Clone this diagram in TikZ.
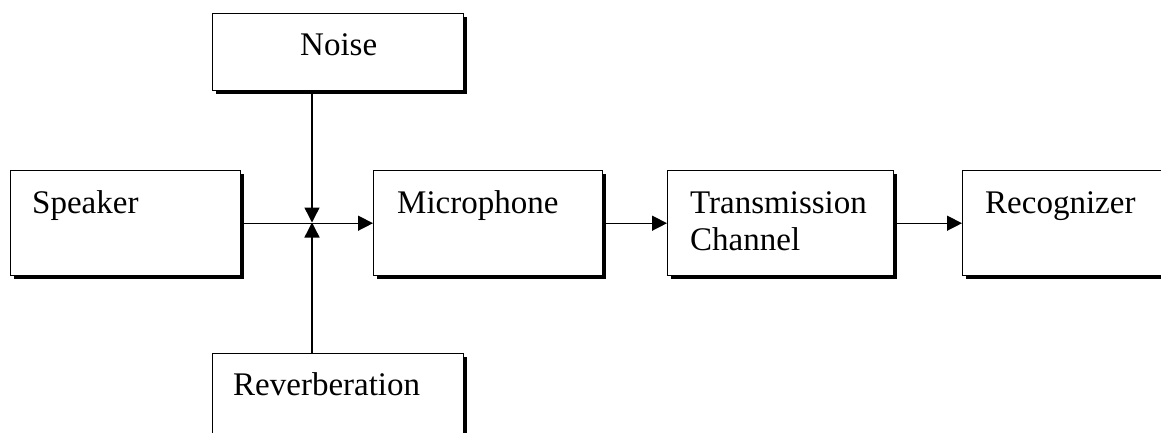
\documentclass[tikz,border=0pt]{standalone}
\usepackage{fontspec}
\setmainfont{Liberation Serif}
\usetikzlibrary{arrows.meta,shadows}
\begin{document}
\begin{tikzpicture}[x=1pt,y=-1pt,
  blockbox/.style={draw=black, line width=1.4pt, fill=white, anchor=north west,
    inner sep=0pt, drop shadow={shadow xshift=3pt, shadow yshift=-3pt, fill=black, opacity=1}},
  blocktext/.style={anchor=base west, inner sep=0pt, align=left,
    font=\fontsize{33}{37}\selectfont},
  conn/.style={line width=1.4pt, -{Triangle[length=15pt,width=15pt]}}]
\useasboundingbox (0,0) rectangle (1161,432);
\clip (0,0) rectangle (1161,432);
\node[blockbox, minimum width=230pt, minimum height=105pt] (speaker) at (10,170) {};
\node[blockbox, minimum width=251pt, minimum height=77pt] (noise) at (212,13) {};
\node[blockbox, minimum width=229pt, minimum height=105pt] (mic) at (373,170) {};
\node[blockbox, minimum width=226pt, minimum height=105pt] (trans) at (667,170) {};
\node[blockbox, minimum width=230pt, minimum height=105pt] (recog) at (962,170) {};
\node[blockbox, minimum width=251pt, minimum height=100pt] (reverb) at (212,353) {};
\node[blocktext] (speakertxt) at (32,213) {Speaker};
\node[blocktext] (noisetxt) at (300,55) {Noise};
\node[blocktext] (mictxt) at (397,213) {Microphone};
\node[blocktext] (transtxt) at (690,250) {Transmission\\Channel};
\node[blocktext] (recogtxt) at (985,213) {Recognizer};
\node[blocktext] (reverbtxt) at (233,395) {Reverberation};
\coordinate (j) at (312,222.5);
\draw[conn] (speaker.east) -- (mic.west);
\draw[conn] (noise.south -| j) -- (j);
\draw[conn] (reverb.north -| j) -- (j);
\draw[conn] (mic.east) -- (trans.west);
\draw[conn] (trans.east) -- (recog.west);
\end{tikzpicture}
\end{document}
